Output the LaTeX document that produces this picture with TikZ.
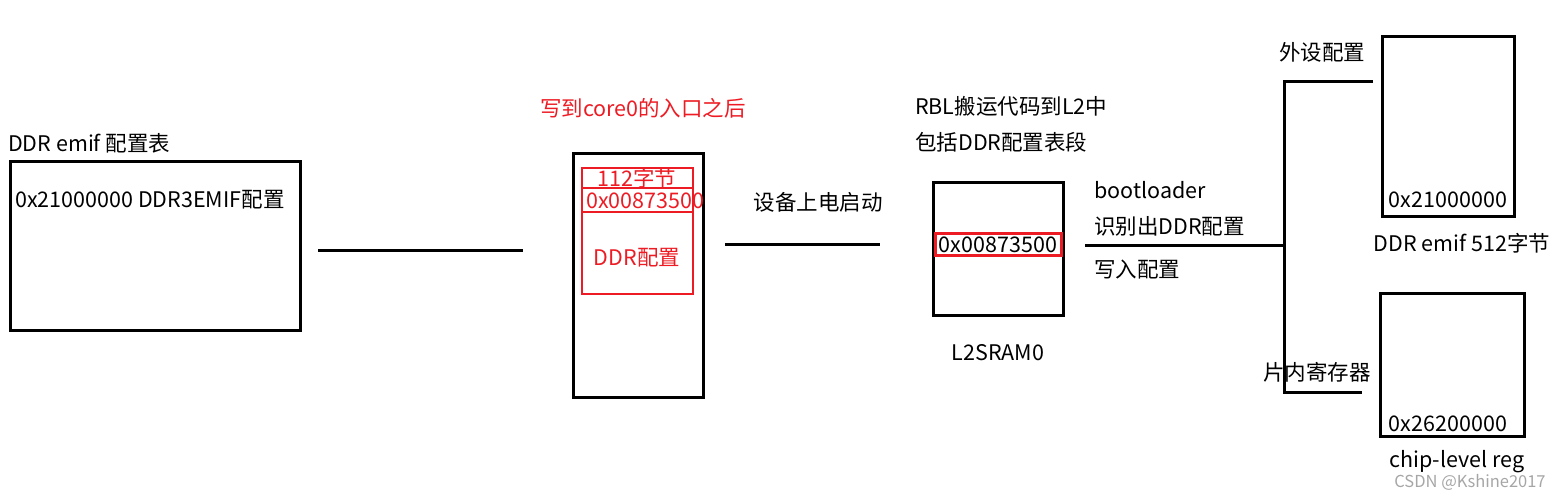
\documentclass[tikz,border=0pt]{standalone}
\usepackage{fontspec}
\setmainfont{Noto Sans CJK SC}
\definecolor{pred}{HTML}{ED1C24}
\begin{document}
\begin{tikzpicture}[x=1pt,y=-1pt,
  blk/.style={draw=black,line width=3pt},
  rd/.style={draw=pred,line width=2.8pt},
  conn/.style={line width=3pt},
  lbl/.style={inner sep=0pt,font=\fontsize{21.5}{24}\selectfont},
  rlbl/.style={lbl,text=pred}]
\useasboundingbox (0,0) rectangle (1559,493);
% box 1
\node[blk,minimum width=290pt,minimum height=169pt,inner sep=0pt] (b1) at (155,245.5) {};
\node[lbl,anchor=west] (t1) at (8,143) {DDR emif 配置表};
\node[lbl,anchor=west] (t2) at (15,200) {0x21000000 DDR3EMIF配置};
% line 1
\coordinate (l1a) at (318,250);
\coordinate (l1b) at (523,250);
\draw[conn] (l1a) -- (l1b);
% box 2
\node[blk,minimum width=130pt,minimum height=244pt,inner sep=0pt] (b2) at (638,275) {};
\node[rd,minimum width=111pt,minimum height=126pt,inner sep=0pt] (r2) at (637.5,231) {};
\coordinate (d1a) at (582,188); \coordinate (d1b) at (693,188);
\coordinate (d2a) at (582,212); \coordinate (d2b) at (693,212);
\draw[rd] (d1a) -- (d1b) (d2a) -- (d2b);
\node[rlbl] (t3) at (637,178) {112字节};
\node[rlbl,anchor=west] (t4) at (586,201) {0x00873500};
\node[rlbl] (t5) at (637,258) {DDR配置};
\node[rlbl] (t6) at (643,108) {写到core0的入口之后};
% line 2
\coordinate (l2a) at (725,244);
\coordinate (l2b) at (880,244);
\draw[conn] (l2a) -- (l2b);
\node[lbl] (t7) at (818,202) {设备上电启动};
% box 3
\node[blk,minimum width=130pt,minimum height=133pt,inner sep=0pt] (b3) at (998,248.5) {};
\node[rd,minimum width=126pt,minimum height=22pt,inner sep=0pt] (r3) at (998.5,244.5) {};
\node[lbl] (t8) at (998,245) {0x00873500};
\node[lbl,anchor=west] (t9) at (915,106) {RBL搬运代码到L2中};
\node[lbl,anchor=west] (t10) at (915,142) {包括DDR配置表段};
\node[lbl] (t11) at (998,353) {L2SRAM0};
% line 3
\coordinate (l3a) at (1085,245);
\coordinate (l3b) at (1285,245);
\draw[conn] (l3a) -- (l3b);
\node[lbl,anchor=west] (t12) at (1094,190) {bootloader};
\node[lbl,anchor=west] (t13) at (1094,226) {识别出DDR配置};
\node[lbl,anchor=west] (t14) at (1094,270) {写入配置};
% branch
\coordinate (bt) at (1373,81);
\coordinate (bc1) at (1284,81);
\coordinate (bc2) at (1284,392);
\coordinate (bb) at (1362,392);
\draw[conn] (bt) -- (bc1) -- (bc2) -- (bb);
\node[lbl] (t15) at (1322,52) {外设配置};
\node[lbl] (t16) at (1317,372) {片内寄存器};
% box 4
\node[blk,minimum width=132pt,minimum height=180pt,inner sep=0pt] (b4) at (1448,126) {};
\node[lbl] (t17) at (1448,200) {0x21000000};
\node[lbl] (t18) at (1462,243) {DDR emif 512字节};
% box 5
\node[blk,minimum width=144pt,minimum height=143pt,inner sep=0pt] (b5) at (1452,364.5) {};
\node[lbl] (t19) at (1448,424) {0x26200000};
\node[lbl] (t20) at (1457,462) {chip-level reg};
\node[inner sep=0pt,text=black!35,font=\fontsize{16.5}{18}\selectfont] (wm) at (1470,482) {CSDN @Kshine2017};
\end{tikzpicture}
\end{document}
